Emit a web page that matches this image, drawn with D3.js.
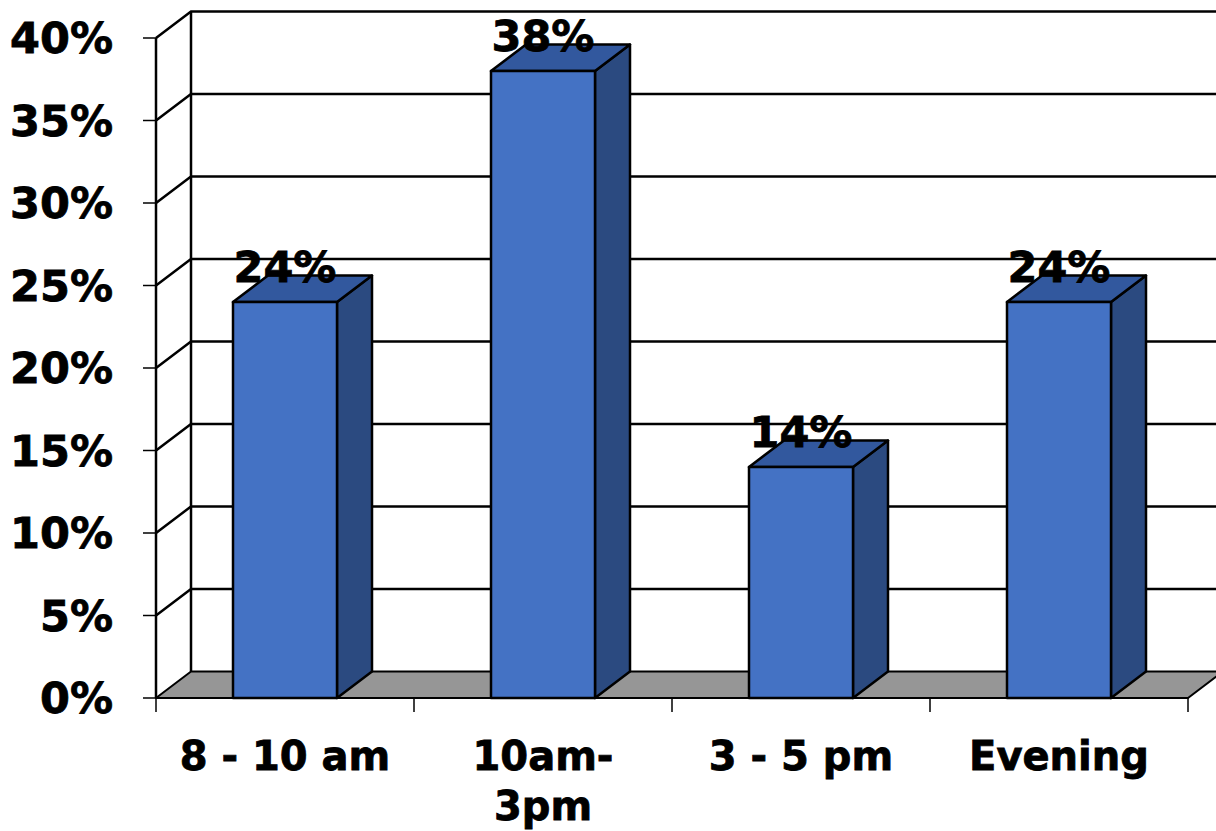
<!DOCTYPE html>
<html>
<head>
<meta charset="utf-8">
<script src="https://cdn.jsdelivr.net/npm/d3@7"></script>
<style>
  html, body { margin: 0; padding: 0; background: #fff; }
  svg { display: block; }
  text { font-family: "DejaVu Sans", Verdana, sans-serif; font-weight: bold; fill: #000; stroke: #000; stroke-width: 0.8px; }
</style>
</head>
<body>
<svg id="chart" width="1216" height="831"></svg>
<script>
const categories = ["8 - 10 am", "10am-\n3pm", "3 - 5 pm", "Evening"];
const values = [24, 38, 14, 24];
const valueLabels = ["24%", "38%", "14%", "24%"];
const yTicks = [0, 5, 10, 15, 20, 25, 30, 35, 40];
const yTickLabels = ["0%", "5%", "10%", "15%", "20%", "25%", "30%", "35%", "40%"];

const svg = d3.select("#chart");
const x0 = 156, x1 = 1188;
const dx = 35, dy = -26.5;
const barW = 104;

const y = d3.scaleLinear().domain([0, 40]).range([698, 38]);
const x = d3.scalePoint().domain(categories).range([x0, x1]).padding(0.5);
const bandEdges = d3.range(categories.length + 1).map(i => x0 + i * (x1 - x0) / categories.length);

const line = d3.line();

// Back wall gridlines and left side wall lines
const grid = svg.append("g");
yTicks.forEach(t => {
  const yf = y(t), yb = y(t) + dy;
  if (t > 0) {
    grid.append("path").attr("d", line([[x0, yf], [x0 + dx, yb], [x1 + dx + 40, yb]]))
      .attr("fill", "none").attr("stroke", "#000").attr("stroke-width", 2.5);
  }
});
grid.append("path").attr("d", line([[x0 + dx, y(0) + dy], [x0 + dx, y(40) + dy]]))
  .attr("fill", "none").attr("stroke", "#000").attr("stroke-width", 2.5);

// Floor
svg.append("path")
  .attr("d", line([[x0, y(0)], [x1, y(0)], [x1 + dx, y(0) + dy], [x0 + dx, y(0) + dy]]) + "Z")
  .attr("fill", "#969696").attr("stroke", "#000").attr("stroke-width", 2).attr("stroke-linejoin", "round");

// Front axis lines
svg.append("path").attr("d", line([[x0, y(0)], [x0, y(40)]]))
  .attr("fill", "none").attr("stroke", "#000").attr("stroke-width", 2.5);
svg.append("path").attr("d", line([[x0, y(0)], [x1, y(0)]]))
  .attr("fill", "none").attr("stroke", "#000").attr("stroke-width", 2);

// Y ticks and labels
yTicks.forEach((t, i) => {
  svg.append("path").attr("d", line([[x0 - 13, y(t)], [x0, y(t)]]))
    .attr("stroke", "#000").attr("stroke-width", 1.5);
  svg.append("text").attr("x", 113).attr("y", y(t) + 15)
    .attr("text-anchor", "end").attr("font-size", 43).text(yTickLabels[i]);
});

// X ticks
bandEdges.forEach(e => {
  svg.append("path").attr("d", line([[e, y(0)], [e, y(0) + 14]]))
    .attr("stroke", "#000").attr("stroke-width", 1.5);
});

// Bars
const bars = svg.append("g");
categories.forEach((c, i) => {
  const cx = x(c);
  const bl = cx - barW / 2, br = cx + barW / 2;
  const yt = y(values[i]), yb = y(0);
  const g = bars.append("g").attr("stroke", "#000").attr("stroke-width", 2.5).attr("stroke-linejoin", "round");
  g.append("path").attr("d", line([[br, yt], [br + dx, yt + dy], [br + dx, yb + dy], [br, yb]]) + "Z")
    .attr("fill", "#2B4A80");
  g.append("path").attr("d", line([[bl, yt], [br, yt], [br + dx, yt + dy], [bl + dx, yt + dy]]) + "Z")
    .attr("fill", "#32589E");
  g.append("rect").attr("x", bl).attr("y", yt).attr("width", barW).attr("height", yb - yt)
    .attr("fill", "#4472C4");
});

// Value labels
categories.forEach((c, i) => {
  svg.append("text").attr("x", x(c)).attr("y", y(values[i]) - 20)
    .attr("text-anchor", "middle").attr("font-size", 43).text(valueLabels[i]);
});

// Category labels
categories.forEach(c => {
  const t = svg.append("text").attr("x", x(c)).attr("y", 770)
    .attr("text-anchor", "middle").attr("font-size", 40);
  c.split("\n").forEach((part, j) => {
    t.append("tspan").attr("x", x(c)).attr("dy", j === 0 ? 0 : 50).text(part);
  });
});
</script>
</body>
</html>
